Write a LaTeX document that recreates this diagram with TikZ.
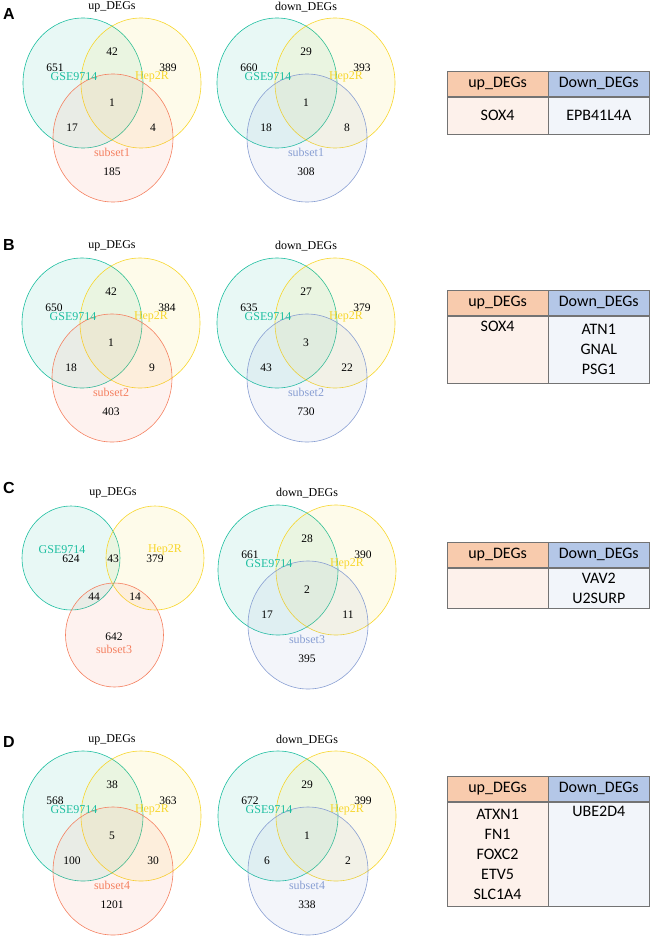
\documentclass[tikz,border=0pt]{standalone}
\usepackage{fontspec}
\setmainfont{Liberation Serif}
\setsansfont{Liberation Sans}
\newfontfamily\tabfont{Carlito}
\usetikzlibrary{positioning}

\definecolor{gseC}{RGB}{30,190,160}
\definecolor{hepC}{RGB}{247,214,45}
\definecolor{upC}{RGB}{244,128,96}
\definecolor{downC}{RGB}{136,158,210}
\definecolor{upHead}{RGB}{248,203,173}
\definecolor{downHead}{RGB}{180,199,231}
\definecolor{upBody}{RGB}{253,241,235}
\definecolor{downBody}{RGB}{242,245,250}
\definecolor{tabline}{RGB}{115,115,115}

\tikzset{
	vnum/.style={font=\fontsize{11.5}{12}\selectfont, inner sep=0pt},
	vset/.style={font=\fontsize{12}{12}\selectfont, inner sep=0pt},
	vtitle/.style={font=\fontsize{12}{12}\selectfont, inner sep=0pt},
	panel/.style={font=\sffamily\bfseries\fontsize{16}{16}\selectfont, inner sep=0pt},
	ring/.style={draw=#1, fill=#1, fill opacity=0.1, line width=0.6pt},
	cell/.style={draw=tabline, line width=0.7pt, minimum width=100.5pt, inner sep=0pt,
		font=\tabfont\fontsize{16}{20}\selectfont, align=center},
}

% three sets, (0,0) is the GSE9714 centre
% #1 subset colour, #2 subset name, #3..#9 counts
\newcommand\threeway[9]{%
	\draw[ring=gseC] (0,0) ellipse (60 and 65);
	\draw[ring=hepC] (58,0) ellipse (60 and 65);
	\draw[ring=#1] (30,55) ellipse (60 and 64);
	\node[vnum] (n100) at (-28,-15) {#3};
	\node[vset, text=gseC] (lgse) at (-9,-6) {GSE9714};
	\node[vnum] (n110) at (29,-31) {#4};
	\node[vnum] (n010) at (85,-15) {#5};
	\node[vset, text=hepC] (lhep) at (69,-6) {Hep2R};
	\node[vnum] (n111) at (29,20) {#6};
	\node[vnum] (n101) at (-11,45) {#7};
	\node[vnum] (n011) at (70,45) {#8};
	\node[vset, text=#1] (lsub) at (29,69) {#2};
	\node[vnum] (n001) at (29,89) {#9};
}

% #1 name, #2 top, #3 body height, #4 up genes, #5 down genes
\newcommand\degtable[5]{%
	\node[cell, fill=upHead, minimum height=25pt, anchor=north west] (#1uh) at (447,#2) {up\_DEGs};
	\node[cell, fill=downHead, minimum height=25pt, anchor=west] (#1dh) at (#1uh.east) {Down\_DEGs};
	\node[cell, fill=upBody, minimum height=#3pt, anchor=north] (#1ub) at (#1uh.south) {#4};
	\node[cell, fill=downBody, minimum height=#3pt, anchor=north] (#1db) at (#1dh.south) {#5};
}

\begin{document}
\begin{tikzpicture}[x=1pt, y=-1pt]
	\useasboundingbox (0,0) rectangle (650,937);
	%%%%% A %%%%%
	\node[panel] (labA) at (9,14) {A};
	\node[vtitle] (tAup) at (112,7) {up\_DEGs};
	\node[vtitle] (tAdown) at (306,7) {down\_DEGs};
	\begin{scope}[shift={(83,83)}, name prefix=Aup-]
		\threeway{upC}{subset1}{651}{42}{389}{1}{17}{4}{185}
	\end{scope}
	\begin{scope}[shift={(277,83)}, name prefix=Adown-]
		\threeway{downC}{subset1}{660}{29}{393}{1}{18}{8}{308}
	\end{scope}
	\degtable{A}{71}{37}{SOX4}{EPB41L4A}
	
	%%%%% B %%%%%
	\node[panel] (labB) at (9,245) {B};
	\node[vtitle] (tBup) at (112,246) {up\_DEGs};
	\node[vtitle] (tBdown) at (306,246) {down\_DEGs};
	\begin{scope}[shift={(82,323)}, name prefix=Bup-]
		\threeway{upC}{subset2}{650}{42}{384}{1}{18}{9}{403}
	\end{scope}
	\begin{scope}[shift={(277,323)}, name prefix=Bdown-]
		\threeway{downC}{subset2}{635}{27}{379}{3}{43}{22}{730}
	\end{scope}
	\degtable{B}{290}{67}{SOX4\\\strut\\\strut}{ATN1\\GNAL\\PSG1}
	
	%%%%% C %%%%%
	\node[panel] (labC) at (9,488) {C};
	\node[vtitle] (tCup) at (113,493) {up\_DEGs};
	\node[vtitle] (tCdown) at (307,493) {down\_DEGs};
	\draw[ring=gseC] (71,558) ellipse (49 and 52);
	\draw[ring=hepC] (155,558) ellipse (49 and 52);
	\draw[ring=upC] (114.5,635) ellipse (49 and 52);
	\node[vset, text=gseC] (Cup-lgse) at (62,550) {GSE9714};
	\node[vnum] (Cup-n100) at (71,559) {624};
	\node[vnum] (Cup-n110) at (113,559) {43};
	\node[vset, text=hepC] (Cup-lhep) at (165,550) {Hep2R};
	\node[vnum] (Cup-n010) at (155,559) {379};
	\node[vnum] (Cup-n101) at (94,597) {44};
	\node[vnum] (Cup-n011) at (135,597) {14};
	\node[vnum] (Cup-n001) at (114,637) {642};
	\node[vset, text=upC] (Cup-lsub) at (114,649) {subset3};
	\begin{scope}[shift={(278,570)}, name prefix=Cdown-]
		\threeway{downC}{subset3}{661}{28}{390}{2}{17}{11}{395}
	\end{scope}
	\degtable{C}{542}{40}{}{VAV2\\U2SURP}
	
	%%%%% D %%%%%
	\node[panel] (labD) at (9,742) {D};
	\node[vtitle] (tDup) at (112,740) {up\_DEGs};
	\node[vtitle] (tDdown) at (307,740) {down\_DEGs};
	\begin{scope}[shift={(83,816)}, name prefix=Dup-]
		\threeway{upC}{subset4}{568}{38}{363}{5}{100}{30}{1201}
	\end{scope}
	\begin{scope}[shift={(278,816)}, name prefix=Ddown-]
		\threeway{downC}{subset4}{672}{29}{399}{1}{6}{2}{338}
	\end{scope}
	\degtable{D}{776}{104}{ATXN1\\FN1\\FOXC2\\ETV5\\SLC1A4}{UBE2D4\\\strut\\\strut\\\strut\\\strut}
\end{tikzpicture}
\end{document}
